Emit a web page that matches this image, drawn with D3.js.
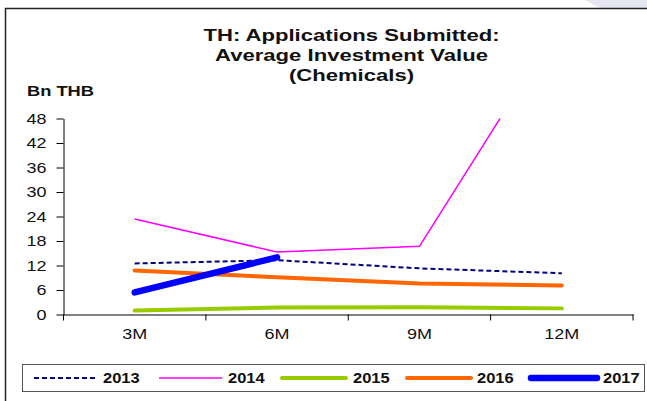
<!DOCTYPE html>
<html><head><meta charset="utf-8">
<script src="https://cdn.jsdelivr.net/npm/d3@7"></script>
<style>body{margin:0;background:#fff}svg{display:block}</style>
</head><body>
<svg id="c" width="647" height="401"></svg>
<script>
const categories = ["3M", "6M", "9M", "12M"];
const yTicks = [0, 6, 12, 18, 24, 30, 36, 42, 48];
const s2013 = [12.5, 13.3, 11.3, 10.1];
const s2014 = [23.4, 15.3, 16.7, 72];
const s2015 = [1.0, 1.7, 1.8, 1.5];
const s2016 = [10.8, 9.1, 7.6, 7.1];
const s2017 = [5.4, 14.0];
const seriesNames = ["2013", "2014", "2015", "2016", "2017"];

(function () {
const series = [
  {name: "2013", values: s2013, color: "#000080", width: 2, dash: "5,3"},
  {name: "2014", values: s2014, color: "#ff00ff", width: 1.5, dash: null},
  {name: "2015", values: s2015, color: "#99cc00", width: 4, dash: null},
  {name: "2016", values: s2016, color: "#ff6600", width: 4, dash: null},
  {name: "2017", values: s2017, color: "#0000ff", width: 6.5, dash: null}
];

const svg = d3.select("#c");
const font = "Arial, 'Liberation Sans', sans-serif";
const SX = 1.2;
const stretch = (sel, ax, s) => sel.attr("transform", `translate(${ax},0) scale(${s},1) translate(${-ax},0)`);

// decorative corner
svg.append("path").attr("d", "M585,0 L647,0 L647,8 L600,8 Z").attr("fill", "#e6e6f2");
// frame
svg.append("path").attr("d", "M5.5,401 L5.5,8.5 L647,8.5").attr("fill", "none").attr("stroke", "#222").attr("stroke-width", 1.5);

const pL = 63.5, pR = 633, pT = 118.5, pB = 314.5;
const x = d3.scaleBand().domain(categories).range([pL, pR]);
const y = d3.scaleLinear().domain([0, 48]).range([pB, pT]);

// title
const title = ["TH: Applications Submitted:", "Average Investment Value", "(Chemicals)"];
const tx = 351.5;
svg.append("g").selectAll("text").data(title).join("text")
  .attr("x", tx).attr("y", (d, i) => 41.5 + i * 20).attr("text-anchor", "middle")
  .attr("font-family", font).attr("font-weight", "bold").attr("font-size", 17).attr("fill", "#111")
  .text(d => d)
  .call(stretch, tx, 1.3);

svg.append("text").attr("x", 27).attr("y", 96).attr("font-family", font)
  .attr("font-weight", "bold").attr("font-size", 15.5).attr("fill", "#111").text("Bn THB")
  .call(stretch, 27, 1.18);

// axes
const yAxis = svg.append("g").attr("transform", `translate(${pL},0)`)
  .call(d3.axisLeft(y).tickValues(yTicks).tickSize(7).tickPadding(10).tickSizeOuter(0));
yAxis.select(".domain").attr("stroke", "#000");
yAxis.selectAll(".tick line").attr("stroke", "#000");
yAxis.selectAll("text").attr("font-family", font).attr("font-size", 15).attr("fill", "#111")
  .call(stretch, -17, SX);

const xAxis = svg.append("g").attr("transform", `translate(0,${pB})`)
  .call(d3.axisBottom(x).tickSize(0).tickPadding(14));
xAxis.select(".domain").attr("stroke", "#000");
xAxis.selectAll("text").attr("font-family", font).attr("font-size", 15).attr("fill", "#111")
  .call(stretch, 0, SX);
const bounds = categories.map(c => x(c)).concat([x(categories[categories.length - 1]) + x.bandwidth()]);
xAxis.selectAll("line.b").data(bounds).join("line").attr("class", "b")
  .attr("x1", d => d).attr("x2", d => d).attr("y1", 0).attr("y2", 6).attr("stroke", "#000");

svg.append("clipPath").attr("id", "clip").append("rect")
  .attr("x", pL).attr("y", pT).attr("width", pR - pL).attr("height", pB - pT + 4);

const line = d3.line().x((d, i) => x(categories[i]) + x.bandwidth() / 2).y(d => y(d));
const g = svg.append("g").attr("clip-path", "url(#clip)");
series.forEach(s => {
  g.append("path").attr("d", line(s.values)).attr("fill", "none")
    .attr("stroke", s.color).attr("stroke-width", s.width)
    .attr("stroke-linecap", s.width >= 4 ? "round" : "butt")
    .attr("stroke-linejoin", "round")
    .attr("stroke-dasharray", s.dash);
});

// legend
svg.append("rect").attr("x", 22.5).attr("y", 364.5).attr("width", 622).attr("height", 27)
  .attr("fill", "#fff").attr("stroke", "#555").attr("stroke-width", 1);
const legX = [34, 159, 282, 407, 531];
const legLen = [61, 63, 64, 64, 66];
const legT = [103, 228, 353, 477, 603];
series.forEach((s, i) => {
  svg.append("line").attr("x1", legX[i]).attr("x2", legX[i] + legLen[i]).attr("y1", 378).attr("y2", 378)
    .attr("stroke", s.color).attr("stroke-width", s.width)
    .attr("stroke-linecap", s.width >= 4 ? "round" : "butt")
    .attr("stroke-dasharray", s.dash);
  svg.append("text").attr("x", legT[i]).attr("y", 383.5)
    .attr("font-family", font).attr("font-weight", "bold").attr("font-size", 15).attr("fill", "#111")
    .text(seriesNames[i])
    .call(stretch, legT[i], 1.1);
});
})();
</script>
</body></html>
